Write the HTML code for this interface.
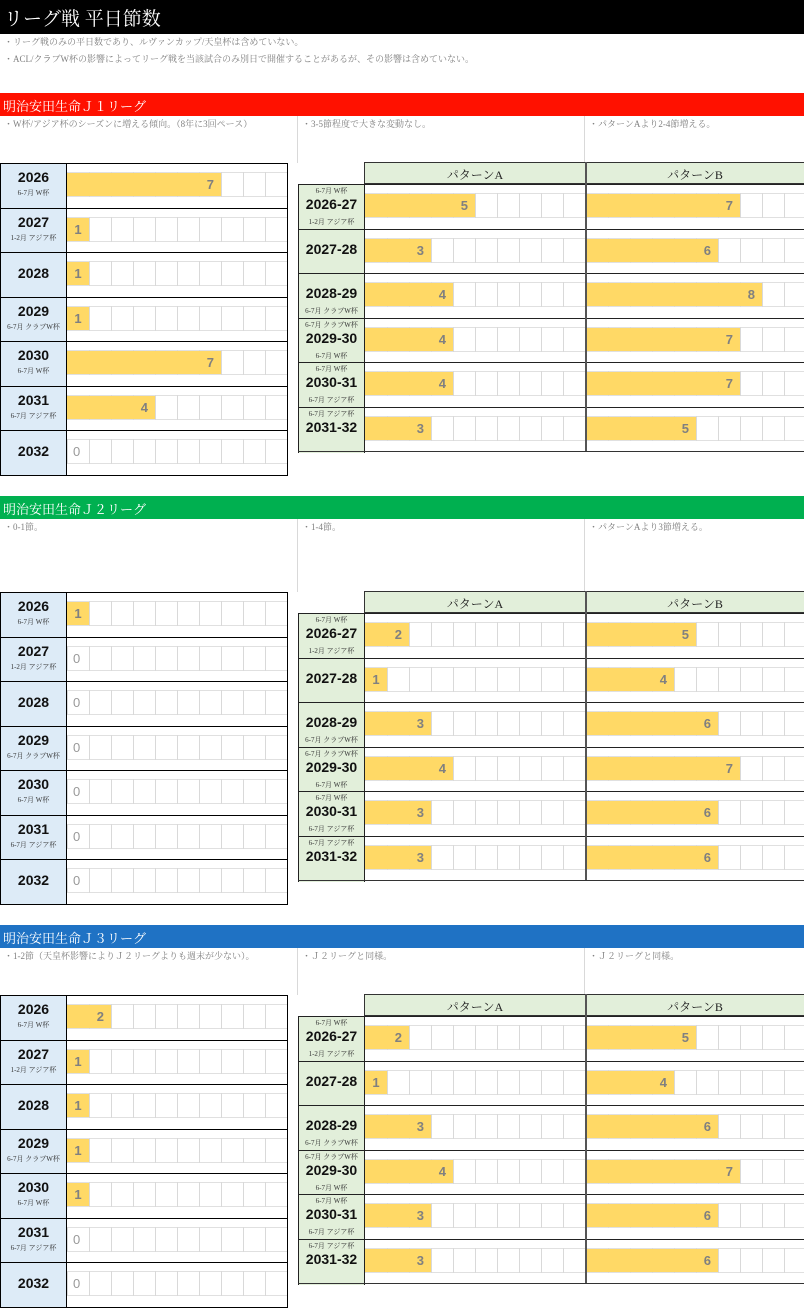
<!DOCTYPE html>
<html><head><meta charset="utf-8"><style>
*{margin:0;padding:0;box-sizing:border-box}
body{width:804px;height:1306px;overflow:hidden;background:#fff;position:relative;font-family:"Liberation Serif","Noto Serif CJK SC","Noto Sans CJK JP",serif}
.a{position:absolute}
.sans{font-family:"Liberation Sans","Noto Sans CJK JP",sans-serif}
.note{font-size:9px;color:#808080;white-space:nowrap}
.yr{font-family:"Liberation Sans","DejaVu Sans",sans-serif;font-weight:bold;font-size:14px;color:#111;text-align:center;width:100%}
.sub{font-size:7px;color:#333;text-align:center;width:100%;white-space:nowrap}
.num{font-family:"Liberation Sans",sans-serif;font-weight:bold;font-size:13px;color:#808080}
</style></head><body>
<div class="a" style="left:0;top:0;width:804px;height:34px;background:#000"></div>
<div class="a" style="left:4px;top:4px;color:#fff;font-size:19px">リーグ戦 平日節数</div>
<div class="a note" style="left:4px;top:35px">・リーグ戦のみの平日数であり、ルヴァンカップ/天皇杯は含めていない。</div>
<div class="a note" style="left:4px;top:52px">・ACL/クラブW杯の影響によってリーグ戦を当該試合のみ別日で開催することがあるが、その影響は含めていない。</div>
<div id="root"></div>
<script>
var S=[
{top:93,col:'#ff1100',name:'明治安田生命Ｊ１リーグ',notes:['・W杯/アジア杯のシーズンに増える傾向。（8年に3回ペース）','・3-5節程度で大きな変動なし。','・パターンAより2-4節増える。'],lt:163,rh:162,
L:[['2026','6-7月 W杯',7],['2027','1-2月 アジア杯',1],['2028','',1],['2029','6-7月 クラブW杯',1],['2030','6-7月 W杯',7],['2031','6-7月 アジア杯',4],['2032','',0]],
R:[['2026-27','6-7月 W杯','1-2月 アジア杯',5,7],['2027-28','','',3,6],['2028-29','','6-7月 クラブW杯',4,8],['2029-30','6-7月 クラブW杯','6-7月 W杯',4,7],['2030-31','6-7月 W杯','6-7月 アジア杯',4,7],['2031-32','6-7月 アジア杯','',3,5]]},
{top:496,col:'#00b050',name:'明治安田生命Ｊ２リーグ',notes:['・0-1節。','・1-4節。','・パターンAより3節増える。'],lt:592,rh:591,
L:[['2026','6-7月 W杯',1],['2027','1-2月 アジア杯',0],['2028','',0],['2029','6-7月 クラブW杯',0],['2030','6-7月 W杯',0],['2031','6-7月 アジア杯',0],['2032','',0]],
R:[['2026-27','6-7月 W杯','1-2月 アジア杯',2,5],['2027-28','','',1,4],['2028-29','','6-7月 クラブW杯',3,6],['2029-30','6-7月 クラブW杯','6-7月 W杯',4,7],['2030-31','6-7月 W杯','6-7月 アジア杯',3,6],['2031-32','6-7月 アジア杯','',3,6]]},
{top:925,col:'#1f72c4',name:'明治安田生命Ｊ３リーグ',notes:['・1-2節（天皇杯影響によりＪ２リーグよりも週末が少ない）。','・Ｊ２リーグと同様。','・Ｊ２リーグと同様。'],lt:995,rh:994,
L:[['2026','6-7月 W杯',2],['2027','1-2月 アジア杯',1],['2028','',1],['2029','6-7月 クラブW杯',1],['2030','6-7月 W杯',1],['2031','6-7月 アジア杯',0],['2032','',0]],
R:[['2026-27','6-7月 W杯','1-2月 アジア杯',2,5],['2027-28','','',1,4],['2028-29','','6-7月 クラブW杯',3,6],['2029-30','6-7月 クラブW杯','6-7月 W杯',4,7],['2030-31','6-7月 W杯','6-7月 アジア杯',3,6],['2031-32','6-7月 アジア杯','',3,6]]}
];
var h='';
function d(x,y,w,ht,st,inner){h+='<div class="a" style="left:'+x+'px;top:'+y+'px;width:'+w+'px;height:'+ht+'px;'+(st||'')+'">'+(inner||'')+'</div>';}
function bars(x,y,rh,v,n,W){
  var by=y+10,bh=23;
  d(x,by-1,W,bh+2,'border-top:1px solid #e0e0e0;border-bottom:1px solid #e0e0e0');
  for(var i=0;i<n;i++){ if(x+i*22<804) d(x+i*22,by-1,1,bh+2,'background:#d9d9d9');}
  if(v>0){d(x,by,v*22,bh,'background:#ffd966');
    var t=v==1?'<div class="num" style="position:absolute;left:0;width:22px;text-align:center;top:4px">1</div>':'<div class="num" style="position:absolute;right:7px;top:4px">'+v+'</div>';
    d(x,by,v*22,bh,'',t);}
  else d(x,by,22,bh,'','<div class="num" style="position:absolute;left:6px;top:4px;color:#999;font-weight:normal">0</div>');
}
S.forEach(function(s){
  d(0,s.top,804,23,'background:'+s.col);
  d(3,s.top+3,600,18,'color:#fff;font-size:13px;white-space:nowrap','',0);
  h=h.replace(/><\/div>$/,'>'+s.name+'</div>');
  d(297,s.top+23,1,s.lt-s.top-23-(s.lt-s.rh>0?0:0),'background:#d9d9d9');
  d(584,s.top+23,1,s.lt-s.top-23,'background:#d9d9d9');
  d(4,s.top+24,290,12,'','<div class="note">'+s.notes[0]+'</div>');
  d(302,s.top+24,280,12,'','<div class="note">'+s.notes[1]+'</div>');
  d(589,s.top+24,215,12,'','<div class="note">'+s.notes[2]+'</div>');
  // left table
  var RH=44.5,lt=s.lt;
  d(0,lt,288,RH*7+1,'border:1px solid #000');
  s.L.forEach(function(r,i){
    var y=Math.round(lt+i*RH);
    d(0,y,67,Math.round(RH)+1,'background:#ddebf7;border-top:1px solid #000;border-right:1px solid #000;border-left:1px solid #000');
    d(67,y,221,1,'background:#000');
    if(r[1]){d(0,y+6,67,18,'','<div class="yr">'+r[0]+'</div>');d(0,y+25,67,10,'','<div class="sub">'+r[1]+'</div>');}
    else d(0,y+13,67,18,'','<div class="yr">'+r[0]+'</div>');
    bars(67,y,RH,r[2],10,220);
  });
  d(0,Math.round(lt+7*RH),288,1,'background:#000');
  // right table
  var rt=s.rh;
  d(364,rt,440,22,'background:#e2efda;border:1px solid #333;border-right:none');
  d(585,rt,1,22,'background:#333');
  d(365,rt+4,220,16,'','<div style="text-align:center;font-size:12px;color:#222">パターンA</div>');
  d(586,rt+4,218,16,'','<div style="text-align:center;font-size:12px;color:#222">パターンB</div>');
  var y0=rt+22;
  d(298,y0,506,RH*6+1,'border:1px solid #333;border-right:none');
  s.R.forEach(function(r,i){
    var y=Math.round(y0+i*RH);
    d(298,y,67,Math.round(RH)+1,'background:#e2efda;border:1px solid #222;border-bottom:none');
    d(365,y,439,1,'background:#222');
    d(298,y+2,67,10,'','<div class="sub">'+r[1]+'</div>');
    d(298,y+12,67,18,'','<div class="yr">'+r[0]+'</div>');
    d(298,y+33,67,10,'','<div class="sub">'+r[2]+'</div>');
    bars(365,y,RH,r[3],10,220);
    bars(586,y,RH,r[4],10,218);
  });
  d(298,Math.round(y0+6*RH),506,1,'background:#333');
  d(585,rt,2,22+Math.round(6*RH),'background:#555');
});
document.getElementById('root').innerHTML=h;
</script>
</body></html>
